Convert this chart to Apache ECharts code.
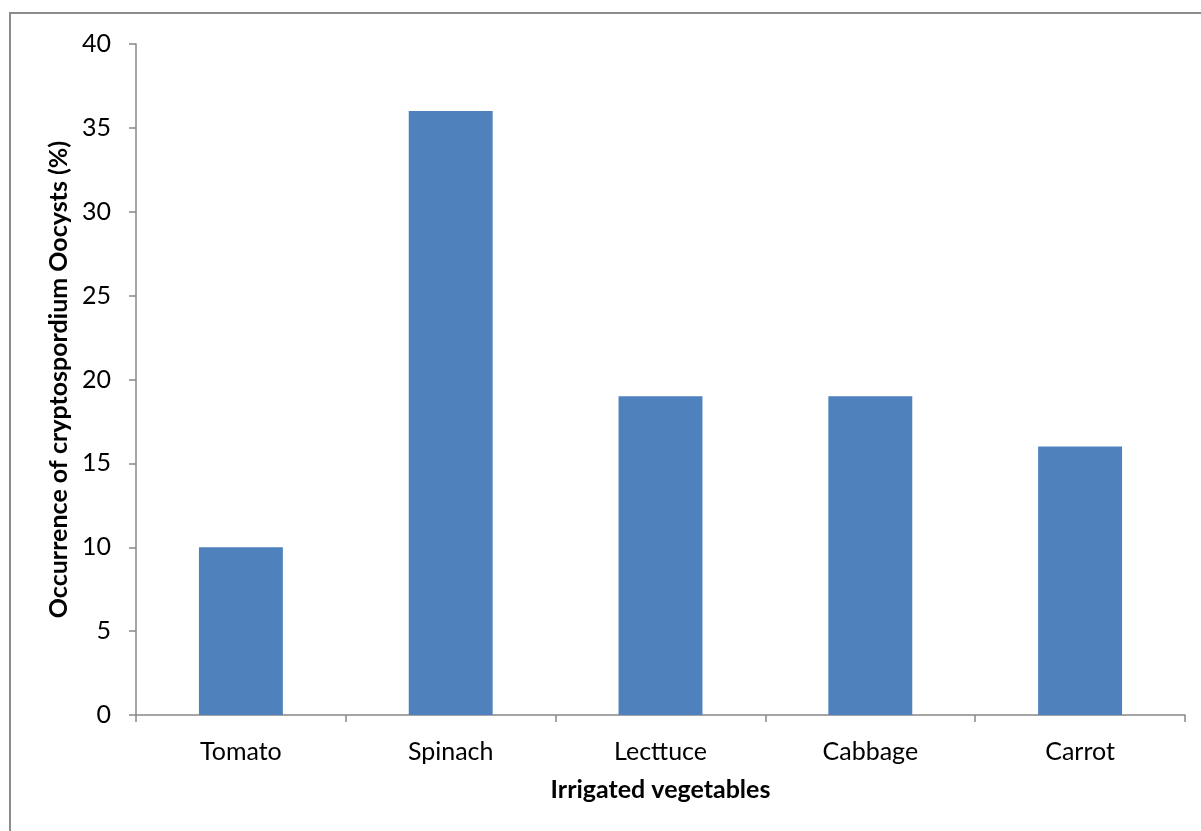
<!DOCTYPE html>
<html>
<head>
<meta charset="utf-8">
<script src="https://cdn.jsdelivr.net/npm/echarts@6/dist/echarts.min.js"></script>
<style>
  html, body { margin: 0; padding: 0; background: #fff; }
  #chart { width: 1201px; height: 831px; }
</style>
</head>
<body>
<div id="chart"></div>
<script>
// data
const vegetables = ['Tomato', 'Spinach', 'Lecttuce', 'Cabbage', 'Carrot']
const occurrence = [10, 36, 19, 19, 16]

const FONT = 'Lato, "Open Sans", sans-serif'
const axisGray = '#888888'

const chart = echarts.init(document.getElementById('chart'))

const option = {
  backgroundColor: '#fff',
  animation: false,
  grid: {
    left: 136,
    right: 16,
    top: 44,
    bottom: 116
  },
  xAxis: {
    type: 'category',
    data: vegetables,
    name: 'Irrigated vegetables',
    nameLocation: 'middle',
    nameGap: 62,
    nameTextStyle: {
      fontFamily: FONT,
      fontSize: 25,
      fontWeight: 'bold',
      color: '#000'
    },
    axisLine: { lineStyle: { color: axisGray, width: 1.5 } },
    axisTick: {
      show: true,
      alignWithLabel: false,
      length: 7,
      lineStyle: { color: axisGray, width: 1.5 }
    },
    axisLabel: {
      fontFamily: FONT,
      fontSize: 25,
      color: '#000',
      margin: 24
    }
  },
  yAxis: {
    type: 'value',
    min: 0,
    max: 40,
    interval: 5,
    name: 'Occurrence of cryptospordium Oocysts (%)',
    nameLocation: 'middle',
    nameGap: 61,
    nameTextStyle: {
      fontFamily: FONT,
      fontSize: 25,
      fontWeight: 'bold',
      color: '#000'
    },
    splitLine: { show: false },
    axisLine: { show: true, lineStyle: { color: axisGray, width: 1.5 } },
    axisTick: {
      show: true,
      length: 7,
      lineStyle: { color: axisGray, width: 1.5 }
    },
    axisLabel: {
      fontFamily: FONT,
      fontSize: 25,
      color: '#000',
      margin: 25
    }
  },
  series: [{
    type: 'bar',
    data: occurrence,
    barWidth: '40%',
    itemStyle: { color: '#4f81bd' }
  }],
  // chart area border (right/bottom edges fall outside the picture)
  graphic: [{
    type: 'rect',
    shape: { x: 10, y: 13, width: 1200, height: 830 },
    style: { fill: 'none', stroke: '#8c8c8c', lineWidth: 2 },
    silent: true
  }]
}

chart.setOption(option)
</script>
</body>
</html>
